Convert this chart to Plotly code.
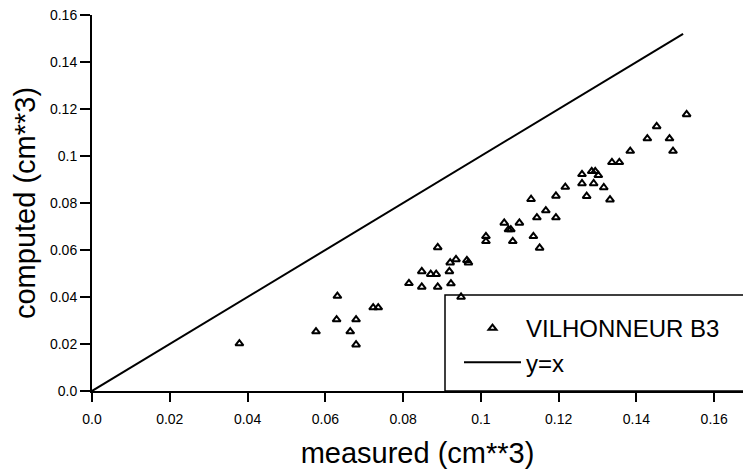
import plotly.graph_objects as go

# ---- data ----
measured = [0.0379, 0.0576, 0.0631, 0.0629, 0.0679, 0.0664, 0.0679,
            0.0723, 0.0736, 0.0889, 0.0815, 0.0848, 0.0848, 0.0871, 0.0885,
            0.0889, 0.0919, 0.0923, 0.0921, 0.0936, 0.0964, 0.0968, 0.0949,
            0.1013, 0.1013, 0.1060, 0.1071, 0.1077, 0.1082, 0.1099, 0.1129,
            0.1135, 0.1144, 0.1151, 0.1167, 0.1193, 0.1193, 0.1217,
            0.1260, 0.1260, 0.1272, 0.1285, 0.1294, 0.1302, 0.1290, 0.1316,
            0.1332, 0.1337, 0.1356, 0.1384, 0.1428, 0.1452, 0.1485, 0.1494,
            0.1529]
computed = [0.0202, 0.0253, 0.0404, 0.0304, 0.0304, 0.0253, 0.0197,
            0.0355, 0.0355, 0.0611, 0.0458, 0.0509, 0.0443, 0.0497, 0.0497,
            0.0443, 0.0509, 0.0457, 0.0546, 0.0560, 0.0556, 0.0546, 0.0400,
            0.0658, 0.0637, 0.0715, 0.0687, 0.0687, 0.0637, 0.0715, 0.0816,
            0.0658, 0.0738, 0.0609, 0.0768, 0.0830, 0.0738, 0.0868,
            0.0922, 0.0883, 0.0829, 0.0935, 0.0935, 0.0918, 0.0883, 0.0866,
            0.0814, 0.0973, 0.0973, 0.1021, 0.1074, 0.1126, 0.1074, 0.1021,
            0.1177]
line_x = [0.0, 0.152]
line_y = [0.0, 0.152]

series_name = "VILHONNEUR B3"
line_name = "y=x"
x_title = "measured (cm**3)"
y_title = "computed (cm**3)"

tick_vals = [0.0, 0.02, 0.04, 0.06, 0.08, 0.1, 0.12, 0.14, 0.16]
tick_text = ["0.0", "0.02", "0.04", "0.06", "0.08", "0.1", "0.12", "0.14", "0.16"]

W, H = 743, 476
ML, MR, MT, MB = 92, 0, 15, 85
x_range = [0, 0.1674]
y_range = [0, 0.16]

FONT = "Liberation Sans, Arial, sans-serif"

fig = go.Figure()
fig.add_trace(go.Scatter(
    x=measured, y=computed, mode="markers", name=series_name,
    marker=dict(symbol="triangle-up-open", size=7, color="black",
                line=dict(color="black", width=2)),
))
fig.add_trace(go.Scatter(
    x=line_x, y=line_y, mode="lines", name=line_name,
    line=dict(color="black", width=2),
))

# legend frame (left and top edges visible)
pw = W - ML - MR
ph = H - MT - MB
lx0 = (445 - ML) / pw
ly1 = (H - MB - 295) / ph
fig.add_shape(type="rect", xref="paper", yref="paper",
              x0=lx0, x1=1.05, y0=0, y1=ly1,
              line=dict(color="black", width=1.5), fillcolor="white",
              layer="below")

fig.update_layout(
    width=W, height=H,
    margin=dict(l=ML, r=MR, t=MT, b=MB, pad=0),
    paper_bgcolor="white", plot_bgcolor="white",
    font=dict(family=FONT, color="black"),
    showlegend=True,
    legend=dict(
        x=(459 - ML) / pw, y=(H - MB - 306) / ph,
        xanchor="left", yanchor="top",
        bgcolor="rgba(0,0,0,0)", borderwidth=0,
        font=dict(family=FONT, size=24, color="black"),
        itemwidth=57, tracegroupgap=0,
    ),
    xaxis=dict(
        range=x_range, tickvals=tick_vals, ticktext=tick_text,
        showgrid=False, zeroline=False, showline=True,
        linecolor="black", linewidth=2,
        ticks="outside", ticklen=9, tickwidth=1.5, tickcolor="black",
        tickfont=dict(family=FONT, size=14, color="black"),
        ticklabelstandoff=5,
        title=dict(text=x_title, font=dict(family=FONT, size=29, color="black"),
                   standoff=17),
    ),
    yaxis=dict(
        range=y_range, tickvals=tick_vals, ticktext=tick_text,
        showgrid=False, zeroline=False, showline=True,
        linecolor="black", linewidth=2,
        ticks="outside", ticklen=10, tickwidth=1.5, tickcolor="black",
        tickfont=dict(family=FONT, size=14, color="black"),
        title=dict(text=y_title, font=dict(family=FONT, size=29, color="black"),
                   standoff=6),
    ),
)

fig.write_html("out.html")
